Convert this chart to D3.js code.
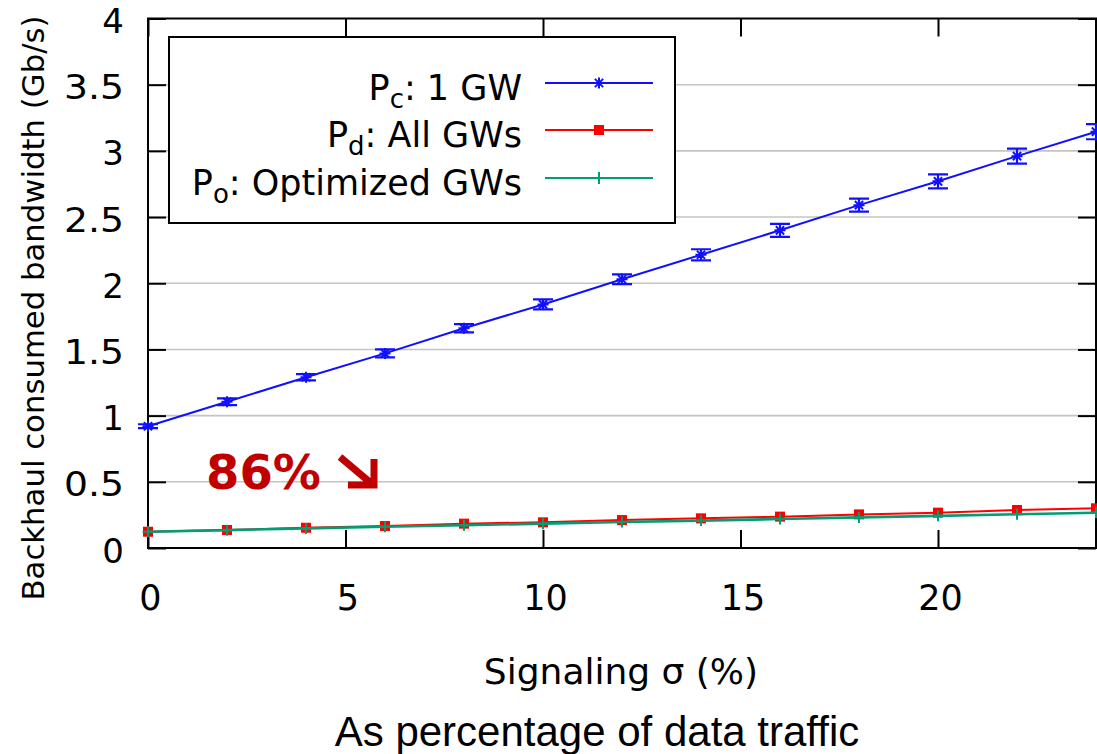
<!DOCTYPE html>
<html><head><meta charset="utf-8">
<script src="https://cdn.jsdelivr.net/npm/d3@7"></script>
<style>body{margin:0;background:#fff}svg{display:block}</style>
</head><body>
<svg id="c" width="1097" height="754"></svg>
<script>
const sigma = [0,2,4,6,8,10,12,14,16,18,20,22,24];
const pc    = [0.92,1.105,1.29,1.47,1.66,1.84,2.03,2.215,2.40,2.59,2.77,2.96,3.145];
const pcErr = [0.015,0.026,0.024,0.03,0.031,0.038,0.037,0.042,0.049,0.049,0.053,0.057,0.057];
const pd    = [0.123,0.136,0.153,0.166,0.184,0.194,0.211,0.224,0.237,0.254,0.267,0.287,0.30];
const po    = [0.123,0.135,0.148,0.160,0.172,0.184,0.196,0.207,0.219,0.231,0.243,0.255,0.266];
const xTicks = [0,5,10,15,20];
const yTicks = [0,0.5,1,1.5,2,2.5,3,3.5,4];
const legendLabels = [["P","c",": 1 GW"],["P","d",": All GWs"],["P","o",": Optimized GWs"]];

const svg = d3.select("#c");
const L=148, R=1096, T=18.5, B=548;
const x = d3.scaleLinear().domain([0,24]).range([L,R]);
const y = d3.scaleLinear().domain([0,4]).range([B,T]);
const font = "DejaVu Sans, Verdana, sans-serif";
const BLUE="#1010ff", RED="#ff0000", GREEN="#009e73";

// grid
svg.append("g").selectAll("line").data(yTicks.filter(d=>d>0&&d<4)).join("line")
  .attr("x1",L).attr("x2",R).attr("y1",d=>y(d)).attr("y2",d=>y(d))
  .attr("stroke","#c4c4c4").attr("stroke-width",1.6);

// axes with inward ticks
const TL=18;
const gl = svg.append("g").attr("transform",`translate(${L},0)`)
  .call(d3.axisLeft(y).tickValues(yTicks).tickSizeInner(-TL).tickSizeOuter(0).tickFormat(d3.format("")));
const gr = svg.append("g").attr("transform",`translate(${R},0)`)
  .call(d3.axisRight(y).tickValues(yTicks).tickSizeInner(-TL).tickSizeOuter(0).tickFormat(""));
const gb = svg.append("g").attr("transform",`translate(0,${B})`)
  .call(d3.axisBottom(x).tickValues(xTicks).tickSizeInner(-TL).tickSizeOuter(0));
const gt = svg.append("g").attr("transform",`translate(0,${T})`)
  .call(d3.axisTop(x).tickValues(xTicks).tickSizeInner(-TL).tickSizeOuter(0).tickFormat(""));
[gl,gr,gb,gt].forEach(g=>{
  g.select(".domain").remove();
  g.selectAll(".tick line").attr("stroke","#000").attr("stroke-width",2);
});
gl.selectAll(".tick text").attr("font-family",font).attr("font-size",34).attr("fill","#000")
  .attr("x",-24).attr("dy",null).attr("y",14).attr("textLength",null);
gl.selectAll(".tick text").filter(d=>String(d).length>1).attr("textLength",60).attr("lengthAdjust","spacingAndGlyphs");
gb.selectAll(".tick text").attr("font-family",font).attr("font-size",35).attr("fill","#000")
  .attr("y",0).attr("dy",null).attr("transform","translate(2,62)");

svg.append("rect").attr("x",L).attr("y",T).attr("width",R-L).attr("height",B-T)
  .attr("fill","none").attr("stroke","#000").attr("stroke-width",2);

// axis titles
svg.append("text").attr("transform","translate(44,308) rotate(-90)").attr("text-anchor","middle")
  .attr("font-family",font).attr("font-size",30).attr("textLength",585).attr("lengthAdjust","spacingAndGlyphs")
  .text("Backhaul consumed bandwidth (Gb/s)");
svg.append("text").attr("x",621).attr("y",684).attr("text-anchor","middle")
  .attr("font-family",font).attr("font-size",36).text("Signaling σ (%)");
svg.append("text").attr("x",597).attr("y",746).attr("text-anchor","middle")
  .attr("font-family","Liberation Sans, Arial, sans-serif").attr("font-size",42).text("As percentage of data traffic");

// markers
function star(g,cx,cy,s,col){
  const p=`M${cx-s},${cy}L${cx+s},${cy}M${cx},${cy-s}L${cx},${cy+s}M${cx-s*0.75},${cy-s*0.75}L${cx+s*0.75},${cy+s*0.75}M${cx-s*0.75},${cy+s*0.75}L${cx+s*0.75},${cy-s*0.75}`;
  g.append("path").attr("d",p).attr("stroke",col).attr("stroke-width",2).attr("fill","none");
}
function plus(g,cx,cy,s,col){
  g.append("path").attr("d",`M${cx-s},${cy}L${cx+s},${cy}M${cx},${cy-s}L${cx},${cy+s}`)
   .attr("stroke",col).attr("stroke-width",2).attr("fill","none");
}
function square(g,cx,cy,s,col){
  g.append("rect").attr("x",cx-s).attr("y",cy-s).attr("width",2*s).attr("height",2*s).attr("fill",col);
}

const plot = svg.append("g");
const line = d3.line().x((d,i)=>x(sigma[i])).y(d=>y(d));
// Pd red
plot.append("path").datum(pd).attr("d",line).attr("fill","none").attr("stroke",RED).attr("stroke-width",2);
pd.forEach((v,i)=>square(plot,x(sigma[i]),y(v),5,RED));
// Po green
plot.append("path").datum(po).attr("d",line).attr("fill","none").attr("stroke",GREEN).attr("stroke-width",2.6);
po.forEach((v,i)=>plus(plot,x(sigma[i]),y(v),5.5,GREEN));
// Pc blue with error bars
plot.append("path").datum(pc).attr("d",line).attr("fill","none").attr("stroke",BLUE).attr("stroke-width",2);
pc.forEach((v,i)=>{
  const cx=x(sigma[i]), y1=y(v-pcErr[i]), y2=y(v+pcErr[i]);
  plot.append("path").attr("d",`M${cx},${y1}L${cx},${y2}M${cx-10},${y1}L${cx+10},${y1}M${cx-10},${y2}L${cx+10},${y2}`)
    .attr("stroke",BLUE).attr("stroke-width",2.2).attr("fill","none");
  star(plot,cx,y(v),5.5,BLUE);
});

// legend
const lg = svg.append("g");
lg.append("rect").attr("x",169).attr("y",37).attr("width",506).attr("height",186)
  .attr("fill","#fff").attr("stroke","#000").attr("stroke-width",2);
const rows=[83,130,178], cols=[BLUE,RED,GREEN];
legendLabels.forEach((lab,i)=>{
  const t=lg.append("text").attr("x",522).attr("y",rows[i]+17).attr("text-anchor","end")
    .attr("font-family",font).attr("font-size",35);
  t.append("tspan").text(lab[0]);
  t.append("tspan").attr("dy",8).attr("font-size",26).text(lab[1]);
  t.append("tspan").attr("dy",-8).text(lab[2]);
  lg.append("line").attr("x1",545).attr("x2",653).attr("y1",rows[i]).attr("y2",rows[i])
    .attr("stroke",cols[i]).attr("stroke-width",2);
});
star(lg,599,rows[0],5.5,BLUE);
square(lg,599,rows[1],5,RED);
plus(lg,599,rows[2],6,GREEN);

// annotation
const DARK="#c00000";
svg.append("text").attr("x",206).attr("y",489).attr("font-family",font).attr("font-weight","bold")
  .attr("font-size",48).attr("fill",DARK).text("86%");
svg.append("path").attr("d","M340,457L372,484M348,485L374,485L374,459")
  .attr("stroke",DARK).attr("stroke-width",7).attr("fill","none").attr("stroke-linecap","butt");
</script>
</body></html>
